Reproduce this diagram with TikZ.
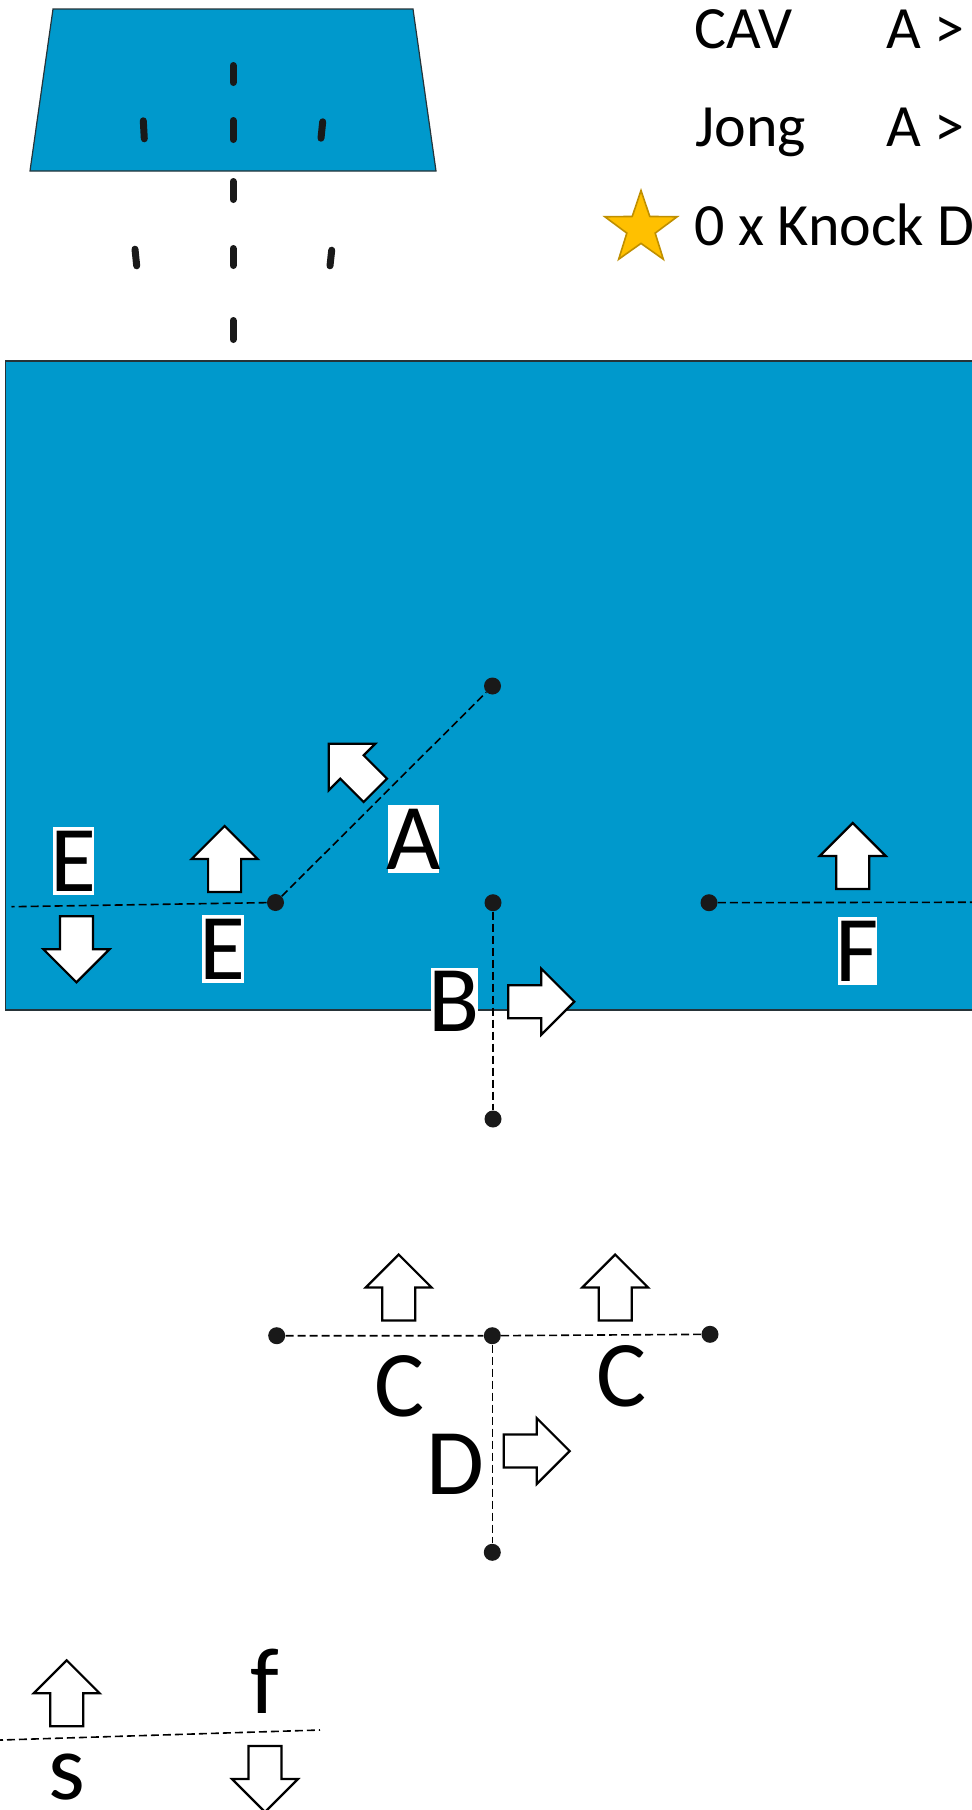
\documentclass[tikz,border=0pt]{standalone}
\usepackage{fontspec}
\setmainfont{Carlito}
\usepackage{xcolor}
\definecolor{poolBody}{rgb}{0,0.6,0.8}
\definecolor{poolBorder}{rgb}{0.15,0.2,0.22}
\definecolor{starBody}{rgb}{1,0.753,0}
\definecolor{starBorder}{rgb}{0.75,0.56,0}
\usepackage{tikz}
\usetikzlibrary{shapes}
\usetikzlibrary{positioning}
\tikzstyle{pool} = [fill=poolBody, draw=poolBorder, line width=0.8pt]
\tikzstyle{lane} = [line width=3.5pt, line cap=round, draw=black!90]
\tikzstyle{guide} = [dash pattern=on 4pt off 2pt, line width=0.8pt]
\tikzstyle{dot} = [circle, fill=black!90, inner sep=0pt, minimum size=8.5pt]
\tikzstyle{legend} = [font={\fontsize{30}{30}\selectfont}, anchor=base west, inner sep=0pt]
\tikzstyle{tag} = [font={\fontsize{47}{47}\selectfont}, fill=white, inner xsep=-1pt, inner ysep=2pt,
        text height=30pt, text depth=0pt]
\tikzstyle{letter} = [tag, fill=none]
\tikzstyle{lowletter} = [font={\fontsize{47}{47}\selectfont}, inner sep=0pt, anchor=base]
\tikzstyle{arrowpen} = [draw=black, fill=white, line width=1.1pt, line join=miter]
\tikzset{blockarrow/.pic={
        \draw [arrowpen] (-33,-16.5) -- (0,-16.5) -- (0,-33) -- (33,0) -- (0,33) -- (0,16.5) -- (-33,16.5) -- cycle;}}

\begin{document}
\begin{tikzpicture}[x=0.5pt, y=-0.5pt]
                \useasboundingbox (0,0) rectangle (972,1810);
                \clip (0,0) rectangle (972,1810);

                % upper pool with its lanes
                \draw [pool, line width=0.6pt] (53,9) -- (413,9) -- (436,171) -- (30,171) -- cycle;
                \foreach \xa/\ya/\xb/\yb in {233/62/233/86, 233/117/233/143, 233/178/233/203,
                        233/245/233/269, 233/317/233/343, 143.3/117.3/144.3/142.3,
                        322.7/118.3/321/141.7, 135/245.7/136.7/269.3, 331.7/246.7/330/269.3}
                    \draw [lane] (\xa,\ya+3.5) -- (\xb,\yb-3.5);

                % legend
                \node [legend] (cav) at (694,48.5) {CAV};
                \node [legend] (cavRule) at (886,48.5) {A >};
                \node [legend] (jong) at (695,146.5) {Jong};
                \node [legend] (jongRule) at (886,146.5) {A >};
                \node [star, star points=5, star point ratio=2.55, minimum size=38pt, inner sep=0pt,
                        fill=starBody, draw=starBorder, line width=0.8pt] (knockStar) at (641,228.5) {};
                \node [legend] (knock) at (694,245) {0 x Knock D};

                % main pool
                \draw [pool] (5.5,361) rectangle (1000,1010);

                \node [dot] (aTop) at (492.5,686) {};
                \node [dot] (eDot) at (275.5,902.5) {};
                \node [dot] (bTop) at (493,902.7) {};
                \node [dot] (bBot) at (493,1119) {};
                \node [dot] (fDot) at (709,902.7) {};
                \node [dot] (cLeft) at (276.7,1335.7) {};
                \node [dot] (cMid) at (492.3,1335.7) {};
                \node [dot] (cRight) at (710,1334.3) {};
                \node [dot] (dBot) at (492.3,1552.3) {};
                \coordinate (eEnd) at (11.5,906.7);
                \coordinate (fEnd) at (990,902.2);
                \coordinate (sEnd) at (-5,1740.2);
                \coordinate (sfEnd) at (320,1730);

                \draw [guide] (eDot) -- (aTop);
                \draw [guide] (eDot) -- (eEnd);
                \draw [guide] (bTop) -- (bBot);
                \draw [guide] (fDot) -- (fEnd);
                \draw [guide] (cLeft) -- (cMid) -- (cRight);
                \draw [guide] (cMid) -- (dBot);
                \draw [guide] (sEnd) -- (sfEnd);

                % block arrows
                \pic [rotate=135] at (352,767) {blockarrow};
                \pic [rotate=90] at (224.6,859) {blockarrow};
                \pic [rotate=-90] at (76.4,949.3) {blockarrow};
                \pic [rotate=90] at (852.7,856) {blockarrow};
                \pic at (541.3,1001.7) {blockarrow};
                \pic [rotate=90] at (398.7,1287.5) {blockarrow};
                \pic [rotate=90] at (615.2,1287.5) {blockarrow};
                \pic at (536.7,1451) {blockarrow};
                \pic [rotate=90] at (66.7,1693.3) {blockarrow};
                \pic [rotate=-90] at (265,1779) {blockarrow};

                % labels
                \node [tag] (aTag) at (413.6,839) {A};
                \node [tag] (eTag) at (73.5,861.3) {E};
                \node [tag] (eTagLow) at (222.7,949.3) {E};
                \node [tag] (fTag) at (857.3,951.2) {F};
                \node [tag] (bTag) at (454.3,1001.5) {B};
                \node [letter] (cTagLeft) at (399.7,1386.7) {C};
                \node [letter] (cTagRight) at (621.3,1376) {C};
                \node [letter] (dTag) at (455,1464) {D};
                \node [lowletter] (sTag) at (67.2,1799) {s};
                \node [lowletter] (fTag2) at (264.5,1713) {f};
            \end{tikzpicture}
\end{document}
